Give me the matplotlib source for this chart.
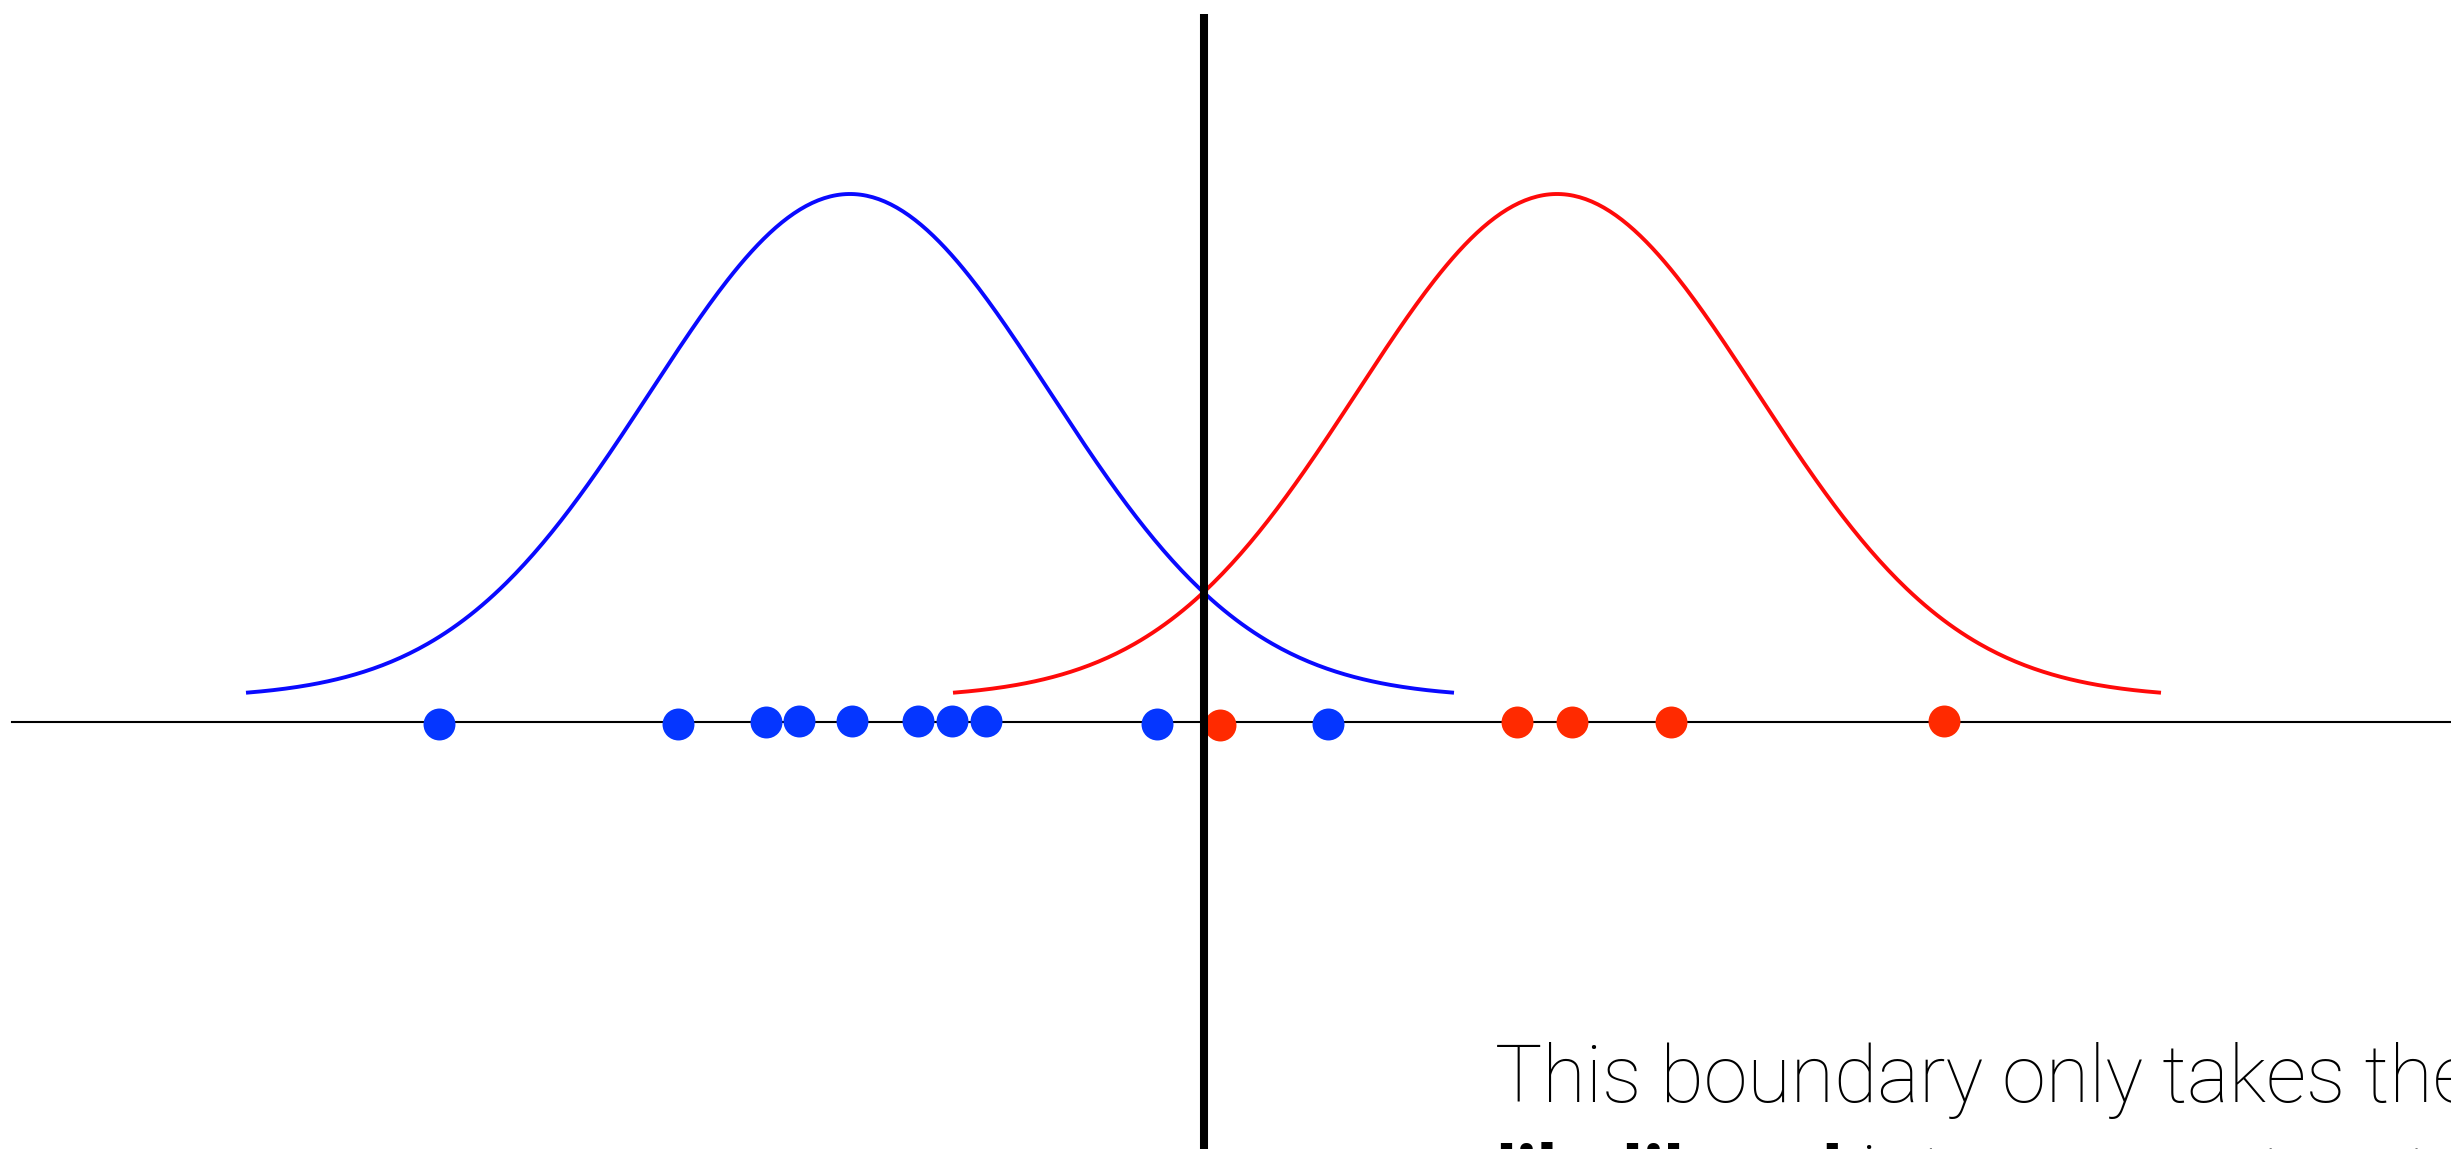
import matplotlib
matplotlib.use("Agg")
import matplotlib.pyplot as plt
import numpy as np

# feature axis: boundary sits at 0, the horizontal axis line at y = 0
BLUE_X = [-7.65, -5.26, -4.38, -4.05, -3.52, -2.86, -2.52, -2.18, -0.47, 1.24]
BLUE_Y = [-0.02, -0.02, 0.0, 0.01, 0.01, 0.01, 0.01, 0.01, -0.02, -0.02]
RED_X = [0.16, 3.13, 3.68, 4.67, 7.40]
RED_Y = [-0.03, 0.0, 0.0, 0.0, 0.01]

CLASS_MEANS = [-3.535, 3.535]
CLASS_SIGMA = 2.0
CURVE_SPAN = 3.02  # in sigmas either side of the mean
PEAK_HEIGHT = 5.04
CURVE_BASE = 0.24

BOUNDARY_X = 0.0
BOUNDARY_TOP = 7.08

LINE1 = "This boundary only takes the"
LINE2_BOLD = "likelihood"
LINE2_REST = " into account, not the prior"

XLIM = (-12.035, 12.475)
YLIM = (-4.27, 7.22)

FONT = ["Roboto", "DejaVu Sans"]
FONT_SIZE = 57


def gaussian_curve(mu: float) -> tuple[np.ndarray, np.ndarray]:
    x = np.linspace(mu - CURVE_SPAN * CLASS_SIGMA, mu + CURVE_SPAN * CLASS_SIGMA, 400)
    y = CURVE_BASE + PEAK_HEIGHT * np.exp(-((x - mu) ** 2) / (2 * CLASS_SIGMA**2))
    return x, y


fig = plt.figure(figsize=(24.51, 11.49), dpi=100)
ax = fig.add_axes([0, 0, 1, 1])
ax.set_xlim(*XLIM)
ax.set_ylim(*YLIM)
ax.axis("off")

# number line
ax.plot([-11.915, XLIM[1]], [0, 0], color="black", linewidth=1.5, zorder=1)

for mu, color in zip(CLASS_MEANS, ["#0a0aff", "#ff0a0a"]):
    cx, cy = gaussian_curve(mu)
    ax.plot(cx, cy, color=color, linewidth=2.8, solid_capstyle="butt", zorder=2)

ax.plot(BLUE_X, BLUE_Y, "o", color="#0536ff", markersize=23, markeredgewidth=0, zorder=3)
ax.plot(RED_X, RED_Y, "o", color="#ff2a00", markersize=23, markeredgewidth=0, zorder=3)

ax.plot([BOUNDARY_X, BOUNDARY_X], [YLIM[0] - 1, BOUNDARY_TOP], color="black",
        linewidth=5.8, solid_capstyle="butt", zorder=4)

# the caption runs off the right and bottom edges, as in the slide
ax.text(2.915, -3.80, LINE1, fontsize=FONT_SIZE, fontweight="light", family=FONT,
        va="baseline", ha="left", color="black")
t_bold = ax.text(2.915, -4.80, LINE2_BOLD, fontsize=FONT_SIZE, fontweight="bold", family=FONT,
                 va="baseline", ha="left", color="black")
fig.canvas.draw()
bb = t_bold.get_window_extent()
x_next = ax.transData.inverted().transform((bb.x1, bb.y0))[0]
ax.text(x_next, -4.80, LINE2_REST, fontsize=FONT_SIZE, fontweight="light", family=FONT,
        va="baseline", ha="left", color="black")

fig.savefig("out.png", dpi=100)
